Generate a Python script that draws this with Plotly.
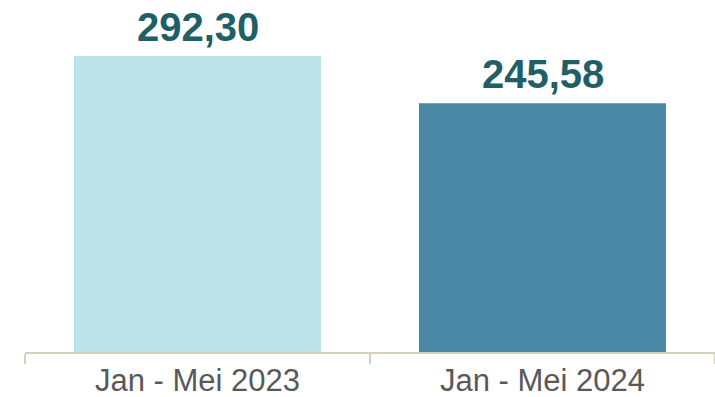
import plotly.graph_objects as go

categories = ["Jan - Mei 2023", "Jan - Mei 2024"]
values = [292.30, 245.58]
bar_colors = ["#BDE4E9", "#4A89A6"]


def fmt(v):
    return f"{v:.2f}".replace(".", ",")


fig = go.Figure()
fig.add_trace(go.Bar(
    x=categories,
    y=values,
    marker=dict(color=bar_colors, line=dict(width=0)),
    hoverinfo="skip",
))

for c, v in zip(categories, values):
    fig.add_annotation(
        x=c, y=v, text=f"<b>{fmt(v)}</b>", showarrow=False,
        yanchor="bottom", yshift=5,
        font=dict(family="Liberation Sans, Arial, sans-serif", size=40, color="#215F66"),
    )

fig.update_layout(
    width=715, height=397,
    margin=dict(l=25, r=0, t=0, b=45),
    plot_bgcolor="white", paper_bgcolor="white",
    bargap=0.284,
    showlegend=False,
    xaxis=dict(
        showline=True, linecolor="#D6D0BC", linewidth=2,
        ticks="outside", tickson="boundaries", ticklen=10, tickcolor="#D6D0BC", tickwidth=2,
        tickfont=dict(family="Liberation Sans, Arial, sans-serif", size=31, color="#595959"),
        showgrid=False, zeroline=False,
    ),
    yaxis=dict(range=[0, 347.6], visible=False, showgrid=False, zeroline=False),
)

fig.write_html("out.html")
